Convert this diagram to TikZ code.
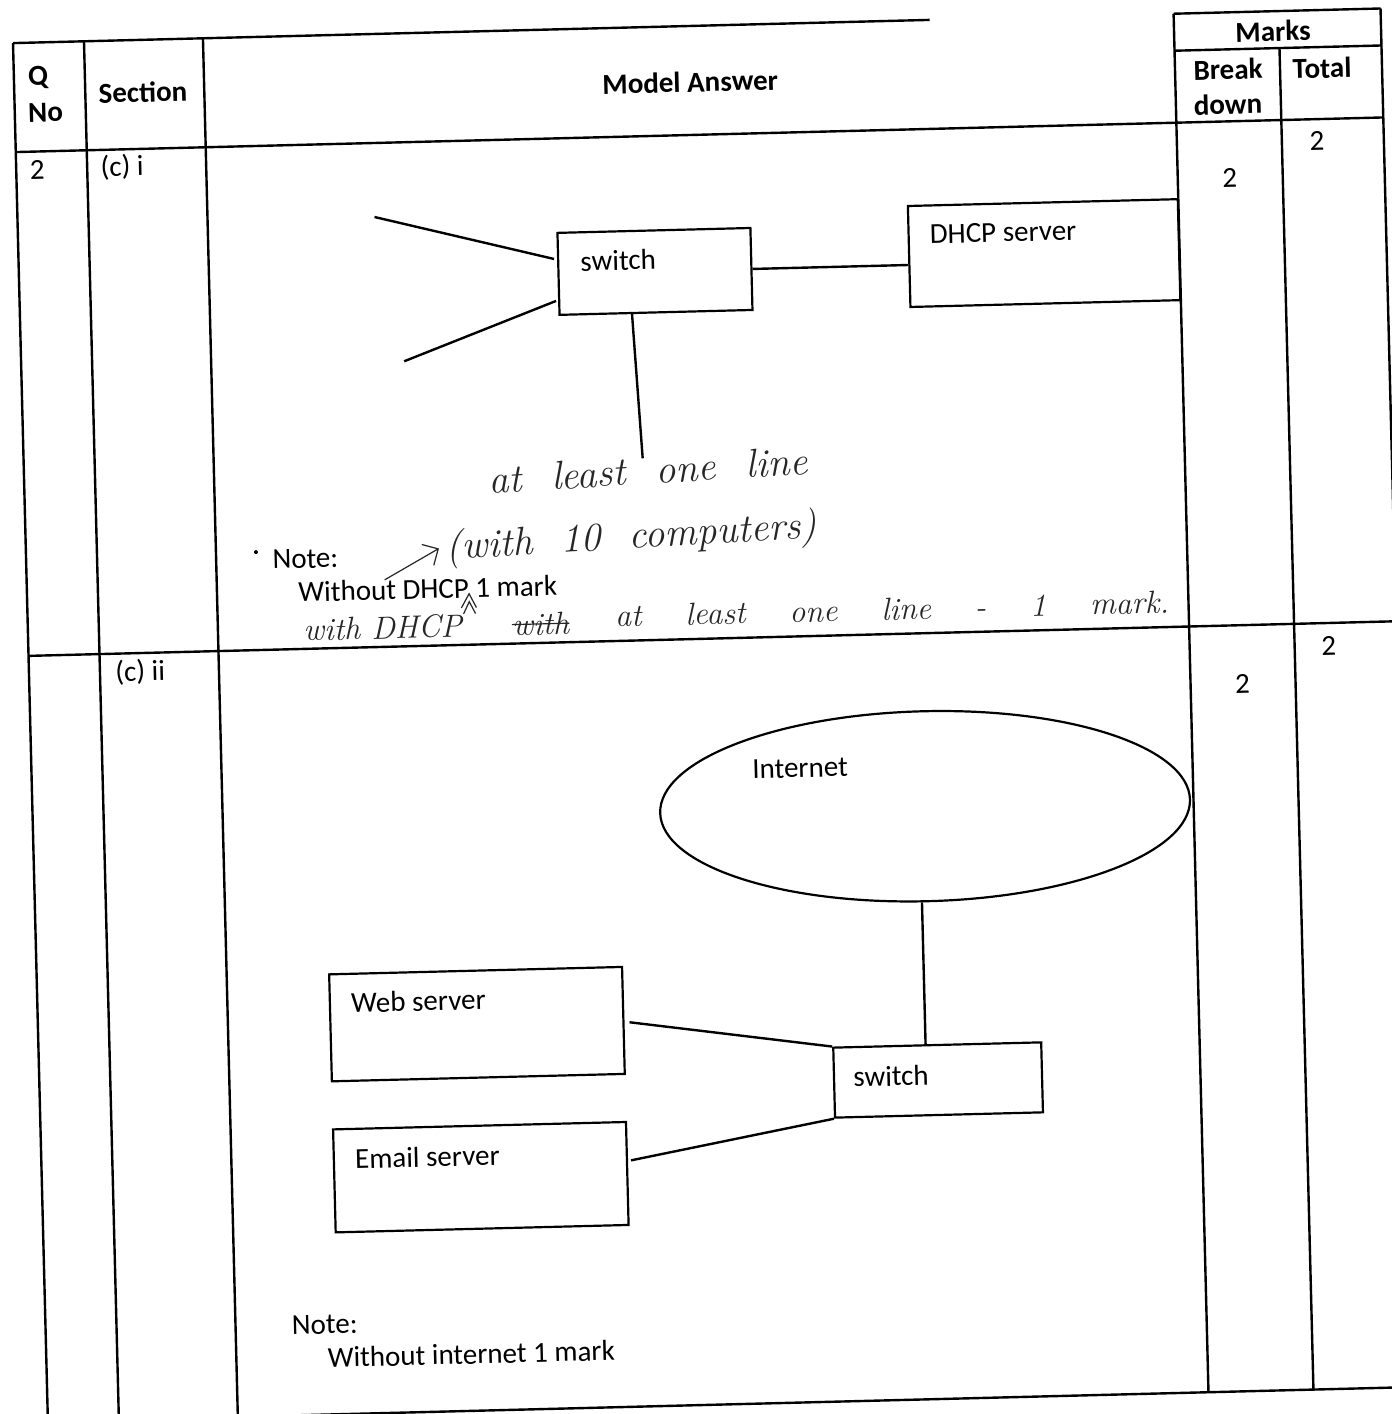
\documentclass[tikz,border=0pt]{standalone}
\usepackage{fontspec}
\newfontfamily\calib{Carlito}
\usetikzlibrary{shapes.geometric,calc,arrows.meta}
\begin{document}
\begin{tikzpicture}[x=0.5pt,y=-0.5pt,
  tbl/.style={line width=1.2pt},
  wire/.style={line width=1.2pt},
  box/.style={draw,line width=1.1pt,rectangle,inner sep=0pt},
  txt/.style={font=\calib\fontsize{14.5}{17}\selectfont,inner sep=0pt},
  hdr/.style={font=\calib\bfseries\fontsize{14.5}{17}\selectfont,inner sep=0pt},
  hand/.style={font=\rmfamily\itshape\fontsize{20}{24}\selectfont,inner sep=0pt,text=black!85},
  handsm/.style={font=\rmfamily\itshape\fontsize{16}{19}\selectfont,inner sep=0pt,text=black!85},
  pen/.style={line width=0.6pt,draw=black!85}]
\useasboundingbox (0,0) rectangle (1392,1414);
\fill[white] (0,0) rectangle (1392,1414);
\clip (0,0) rectangle (1392,1414);
\begin{scope}[rotate around={1.45:(696,707)},transform shape]
% ---------- table ----------
\draw[tbl] (30,26) -- (947,26);
\draw[tbl] (1191,26) -- (1398,26);
\draw[tbl] (1191,63) -- (1398,63);
\draw[tbl] (30,135) -- (1398,135);
\draw[tbl] (30,639) -- (1398,639);
\draw[tbl] (30,1405) -- (1398,1405);
\foreach \x in {30,101,220,1191,1398} \draw[tbl] (\x,26) -- (\x,1405);
\draw[tbl] (1296,63) -- (1296,1405);
% header texts
\node[hdr,anchor=west] (qq) at (44,61) {Q};
\node[hdr,anchor=west] (qno) at (43,96) {No};
\node[hdr,anchor=west] (sec) at (114,78) {Section};
\node[hdr] (ma) at (706,82) {Model Answer};
\node[hdr] (marks) at (1290,46) {Marks};
\node[hdr] (brk) at (1244,83) {Break};
\node[hdr] (dwn) at (1243,118) {down};
\node[hdr] (tot) at (1338,84) {Total};
% row 1 texts
\node[txt] (q2) at (51,153) {2};
\node[txt,anchor=west] (ci) at (114,153) {(c) i};
\node[txt] (t1) at (1331,157) {2};
\node[txt] (b1) at (1243,192) {2};
% row 2 texts
\node[txt,anchor=west] (cii) at (116,658) {(c) ii};
\node[txt] (t2) at (1330,662) {2};
\node[txt] (b2) at (1243,698) {2};
% ---------- diagram 1 ----------
\node[box,minimum width=96.5pt,minimum height=41pt] (sw1) at (666,270.5) {};
\node[txt,anchor=west] (sw1t) at ($(sw1.north west)+(23,30)$) {switch};
\node[box,minimum width=135pt,minimum height=50.5pt] (dhcp) at (1055.5,262) {};
\node[txt,anchor=west] (dhcpt) at ($(dhcp.north west)+(22,30)$) {DHCP server};
\coordinate (c1) at (387,209);
\coordinate (c2) at (413,354);
\coordinate (c3) at (649,457);
\draw[wire] (c1) -- ($(sw1.west)+(-3,-15)$);
\draw[wire] (c2) -- ($(sw1.west)+(-2,27)$);
\draw[wire] ($(sw1.south)+(-24,0)$) -- (c3);
\draw[wire] (sw1.east) -- (sw1.east -| dhcp.west);
% handwriting
\node[hand,rotate=2] (h1) at (654,469) {{\spaceskip=15pt\relax at least one line}};
\node[hand,rotate=2] (h2) at (636,537) {{\spaceskip=14pt\relax (with 10 computers)}};
\coordinate (a1) at (388,572);
\coordinate (a2) at (443,542);
\draw[pen,-{Straight Barb[length=6pt]}] (a1) -- (a2);
\fill (260,541) circle (2);
\node[txt,anchor=west] (n1) at (276,549) {Note:};
\node[txt,anchor=west] (w1) at (301,582) {Without DHCP 1 mark};
\node[handsm,anchor=west] (h3) at (305,620) {with DHCP};
\draw[pen] (464,602) -- (472,588) -- (479,602);
\draw[pen] (466,608) -- (472,596) -- (478,608);
\node[handsm,anchor=west] (ws) at (514,620) {with};
\draw[pen] (ws.west) -- (ws.east);
\node[handsm,anchor=west] (h4) at (617,614) {{\spaceskip=22pt\relax at least one line - 1 mark.}};
% ---------- diagram 2 ----------
\node[draw,ellipse,line width=1.1pt,minimum width=265pt,minimum height=95pt,inner sep=0pt] (inet) at (922.5,812) {};
\node[txt] (inett) at ($(inet.center)+(-124,-41)$) {Internet};
\node[box,minimum width=104pt,minimum height=35pt] (sw2) at (928.6,1086) {};
\node[txt,anchor=west] (sw2t) at ($(sw2.north west)+(20,31)$) {switch};
\node[box,minimum width=146.5pt,minimum height=53.5pt] (web) at (469,1018.5) {};
\node[txt,anchor=west] (webt) at ($(web.north west)+(22,30)$) {Web server};
\node[box,minimum width=146.5pt,minimum height=51.5pt] (mail) at (469,1171.6) {};
\node[txt,anchor=west] (mailt) at ($(mail.north west)+(22,31)$) {Email server};
\coordinate (ib) at ($(inet.south)+(-5.5,0)$);
\draw[wire] (ib) -- (ib |- sw2.north);
\draw[wire] ($(web.east)+(5,2)$) -- (sw2.north west);
\draw[wire] ($(mail.east)+(3,-13)$) -- (sw2.south west);
\node[txt,anchor=west] (n2) at (276,1315) {Note:};
\node[txt,anchor=west] (w2) at (311,1348) {Without internet 1 mark};
\end{scope}
\end{tikzpicture}
\end{document}
